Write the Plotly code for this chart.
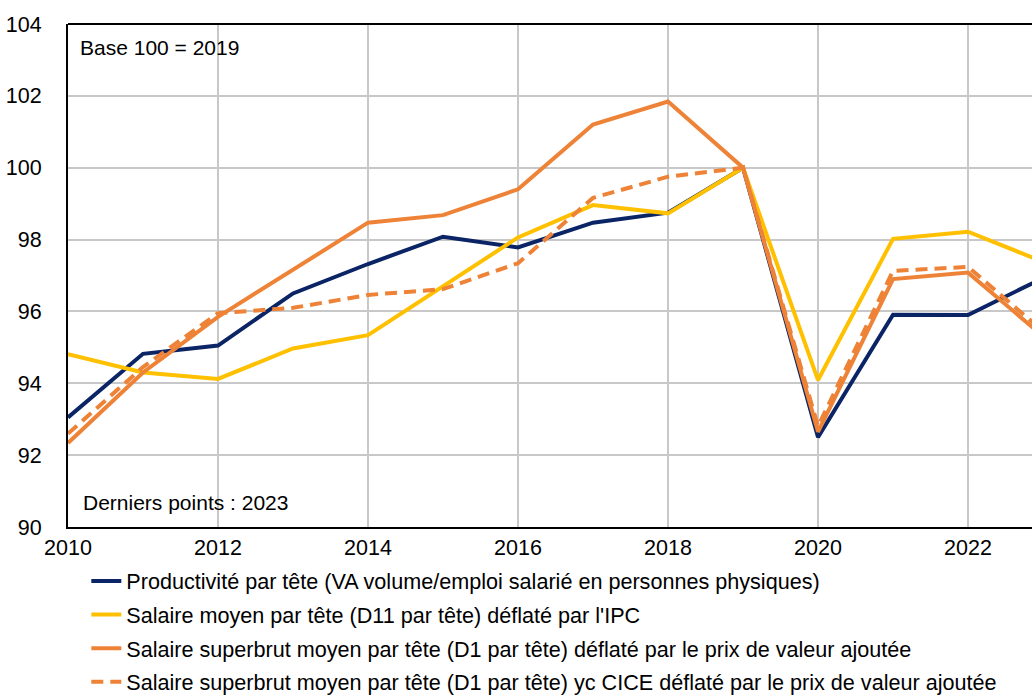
import plotly.graph_objects as go

years = list(range(2010, 2024))

productivite = [93.05, 94.82, 95.05, 96.5, 97.32, 98.08, 97.78, 98.47, 98.75, 100.0, 92.5, 95.91, 95.9, 96.93]
salaire_ipc = [94.81, 94.3, 94.12, 94.97, 95.34, 96.7, 98.06, 98.96, 98.73, 100.0, 94.09, 98.02, 98.22, 97.38]
superbrut_va = [92.34, 94.3, 95.85, 97.15, 98.47, 98.68, 99.4, 101.2, 101.84, 100.0, 92.65, 96.9, 97.08, 95.31]
superbrut_cice = [92.6, 94.45, 95.95, 96.1, 96.46, 96.62, 97.34, 99.16, 99.75, 100.0, 92.8, 97.13, 97.24, 95.45]

names = [
    "Productivité par tête (VA volume/emploi salarié en personnes physiques)",
    "Salaire moyen par tête (D11 par tête) déflaté par l'IPC",
    "Salaire superbrut moyen par tête (D1 par tête) déflaté par le prix de valeur ajoutée",
    "Salaire superbrut moyen par tête (D1 par tête) yc CICE déflaté par le prix de valeur ajoutée",
]
colors = ["#0A2465", "#FFC000", "#EE8236", "#EE8236"]
dashes = ["solid", "solid", "solid", "12px,7px"]
series = [productivite, salaire_ipc, superbrut_va, superbrut_cice]

fig = go.Figure()
for i, (name, vals, col, d) in enumerate(zip(names, series, colors, dashes)):
    fig.add_trace(go.Scatter(x=years, y=vals, mode="lines", name=name, legendgroup=f"g{i}",
                             line=dict(color=col, width=4, dash=d)))

fig.update_layout(
    width=1032, height=695,
    margin=dict(l=68, r=0, t=24, b=168, autoexpand=False),
    plot_bgcolor="white", paper_bgcolor="white",
    font=dict(family="Liberation Sans, Arial, sans-serif", color="black", size=21),
    showlegend=True,
    legend=dict(x=0.019, y=-0.0666, xanchor="left", yanchor="top",
                font=dict(size=21.6), tracegroupgap=2.5, bgcolor="rgba(0,0,0,0)"),
    annotations=[
        dict(text="Base 100 = 2019", xref="paper", yref="paper", x=0.0105, y=0.954,
             xanchor="left", yanchor="middle", showarrow=False, font=dict(size=21)),
        dict(text="Derniers points : 2023", xref="paper", yref="paper", x=0.013, y=0.0497,
             xanchor="left", yanchor="middle", showarrow=False, font=dict(size=21)),
    ],
)
fig.update_xaxes(range=[2010, 2022.853], tickvals=list(range(2010, 2024, 2)),
                 showgrid=True, gridcolor="#C8C8C8", gridwidth=1.5,
                 showline=True, linecolor="black", linewidth=2, mirror=False,
                 ticks="", tickfont=dict(size=21.5), zeroline=False)
fig.update_yaxes(range=[90, 104], tickvals=list(range(90, 105, 2)),
                 showgrid=True, gridcolor="#C8C8C8", gridwidth=1.5,
                 showline=True, linecolor="black", linewidth=2,
                 ticks="", tickfont=dict(size=21.5), ticklabelstandoff=20, zeroline=False)
fig.add_shape(type="line", xref="paper", yref="paper", x0=0, x1=1, y0=1, y1=1,
              line=dict(color="black", width=2))

fig.write_html("out.html", config={"displayModeBar": False},
               post_script="document.body.style.margin='0';document.body.style.overflow='hidden';")
